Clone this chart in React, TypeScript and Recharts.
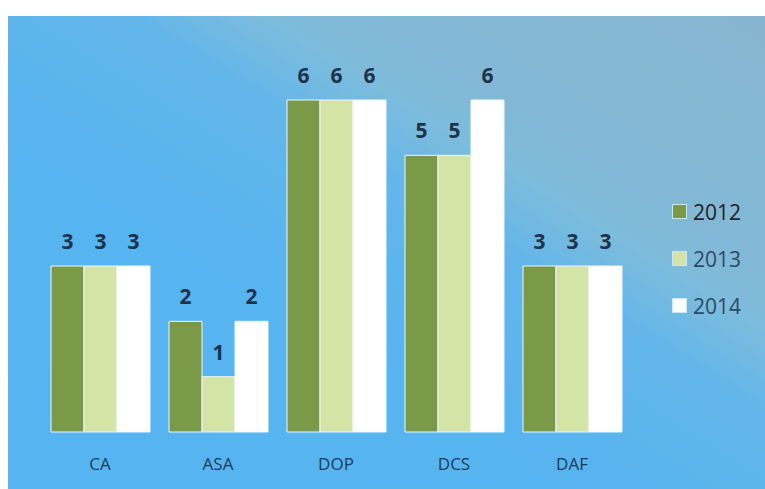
import React from 'react';
import { BarChart, Bar, XAxis, YAxis, LabelList } from 'recharts';

const categories = ['CA', 'ASA', 'DOP', 'DCS', 'DAF'];
const values2012 = [3, 2, 6, 5, 3];
const values2013 = [3, 1, 6, 5, 3];
const values2014 = [3, 2, 6, 6, 3];
const seriesNames = ['2012', '2013', '2014'];
const seriesColors = ['#7b9a48', '#d4e3a6', '#ffffff'];

const data = categories.map((c, i) => ({
  name: c,
  '2012': values2012[i],
  '2013': values2013[i],
  '2014': values2014[i],
}));

const labelStyle = { fontFamily: 'Open Sans, sans-serif', fontSize: 21, fontWeight: 700, fill: '#20324a' };

const Tick = (props: any) => {
  const { x, y, payload } = props;
  return (
    <text x={x} y={y + 30} textAnchor="middle" fontFamily="'Open Sans', sans-serif" fontSize={17} fill="#1f3a5c">
      {payload.value}
    </text>
  );
};

export default function App() {
  return (
    <div style={{ position: 'fixed', left: 0, top: 0, width: 765, height: 489, background: '#ffffff', overflow: 'hidden' }}>
      <div
        style={{
          position: 'absolute',
          left: 8,
          top: 16,
          width: 757,
          height: 473,
          background:
            'linear-gradient(212deg, #87b5cf 0%, #82b8d6 26%, #7dbcdc 33%, #63b6ea 42%, #57b4ef 60%, #55b5f1 100%)',
        }}
      />
      <div style={{ position: 'absolute', left: 0, top: 0 }}>
        <BarChart
          width={765}
          height={489}
          data={data}
          margin={{ top: 100, right: 134, left: 41, bottom: 27 }}
          barGap={0}
          barSize={33}
        >
          <XAxis dataKey="name" axisLine={false} tickLine={false} tick={<Tick />} height={30} interval={0} />
          <YAxis hide domain={[0, 6]} />
          {seriesNames.map((s, i) => (
            <Bar key={s} dataKey={s} fill={seriesColors[i]} stroke="#eef6ff" strokeWidth={1} isAnimationActive={false}>
              <LabelList dataKey={s} position="top" offset={17} style={labelStyle} />
            </Bar>
          ))}
        </BarChart>
      </div>
      <div style={{ position: 'absolute', left: 672, top: 188 }}>
        {seriesNames.map((s, i) => (
          <div key={s} style={{ display: 'flex', alignItems: 'center', height: 47 }}>
            <div
              style={{
                width: 13,
                height: 13,
                background: seriesColors[i],
                border: '1px solid #cfe6f7',
                marginRight: 6,
              }}
            />
            <span
              style={{
                fontFamily: "'Open Sans', sans-serif",
                fontSize: 21,
                color: i === 0 ? '#222222' : '#2c4a66',
                lineHeight: '28px',
              }}
            >
              {s}
            </span>
          </div>
        ))}
      </div>
    </div>
  );
}
